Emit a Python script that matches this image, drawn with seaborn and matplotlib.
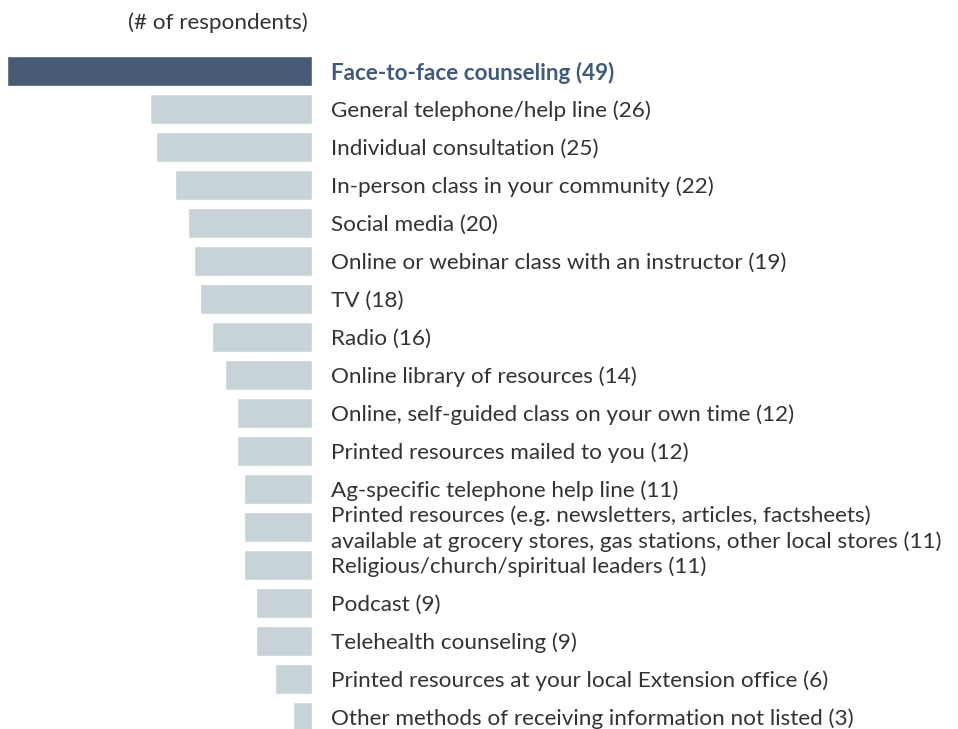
import matplotlib
matplotlib.use("Agg")
import matplotlib.pyplot as plt
import seaborn as sns
import pandas as pd

# survey data: preferred ways of receiving information
methods = [
    "Face-to-face counseling",
    "General telephone/help line",
    "Individual consultation",
    "In-person class in your community",
    "Social media",
    "Online or webinar class with an instructor",
    "TV",
    "Radio",
    "Online library of resources",
    "Online, self-guided class on your own time",
    "Printed resources mailed to you",
    "Ag-specific telephone help line",
    "Printed resources (e.g. newsletters, articles, factsheets)\navailable at grocery stores, gas stations, other local stores",
    "Religious/church/spiritual leaders",
    "Podcast",
    "Telehealth counseling",
    "Printed resources at your local Extension office",
    "Other methods of receiving information not listed",
]
respondents = [49, 26, 25, 22, 20, 19, 18, 16, 14, 12, 12, 11, 11, 11, 9, 9, 6, 3]
highlight = ["Face-to-face counseling"]

DARK = "#3f5a7c"
LIGHT = "#c5d4da"
TEXT = "#333333"
FS = 16.2

sns.set_theme(style="white")
plt.rcParams["font.family"] = ["Lato", "DejaVu Sans"]

df = pd.DataFrame({"method": methods, "n": respondents})
df["grp"] = ["hi" if m in highlight else "lo" for m in df["method"]]

W, H = 958, 729
fig = plt.figure(figsize=(W / 100, H / 100), dpi=100)
ax = fig.add_axes([0, 0, 312 / W, 1])

sns.barplot(data=df, y="method", x="n", hue="grp", palette={"hi": DARK, "lo": LIGHT},
            orient="h", width=30 / 38, dodge=False, legend=False, ax=ax)

px_per_unit = 305 / 49
ax.set_xlim(312 / px_per_unit, 0)
ax.set_ylim((H - 71) / 38, -71 / 38)
ax.axis("off")

# labels sit a touch below the bar centre, like the original
for i, (m, v) in enumerate(zip(methods, respondents)):
    lab = f"{m} ({v})"
    if m in highlight:
        ax.text(-19 / px_per_unit, i + 0.06, lab, ha="left", va="center", fontsize=FS,
                color=DARK, fontweight="bold", clip_on=False)
    else:
        ax.text(-19 / px_per_unit, i + 0.04, lab, ha="left", va="center", fontsize=FS,
                color=TEXT, clip_on=False, linespacing=1.35)

fig.text(308 / W, 1 - 23 / H, "(# of respondents)", ha="right", va="center",
         fontsize=FS, color=TEXT)

fig.savefig("out.png", dpi=100)
